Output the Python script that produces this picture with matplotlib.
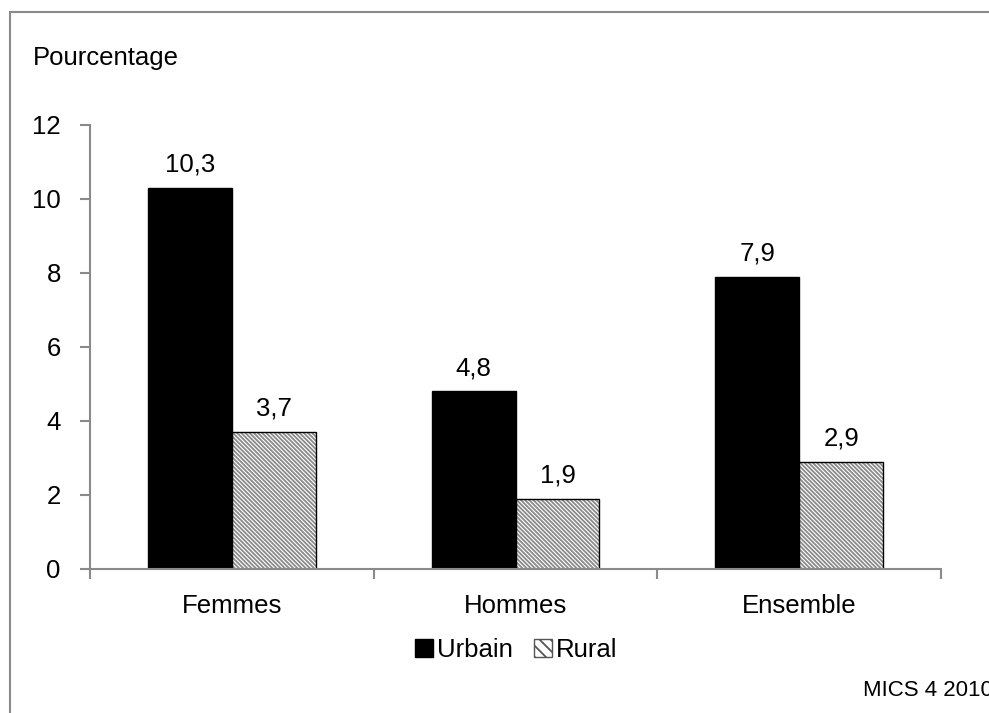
import matplotlib.pyplot as plt
from matplotlib.patches import Rectangle, Patch
import numpy as np

plt.rcParams['font.family'] = ['Liberation Sans', 'DejaVu Sans']
plt.rcParams['hatch.linewidth'] = 1.3

categories = ["Femmes", "Hommes", "Ensemble"]
urbain = [10.3, 4.8, 7.9]
rural = [3.7, 1.9, 2.9]
yticks = [0, 2, 4, 6, 8, 10, 12]


def fmt(v):
    return f"{v:.1f}".replace(".", ",")


fig = plt.figure(figsize=(9.89, 7.13), dpi=100)
ax = fig.add_axes([0.091, 0.202, 0.8605, 0.6227])

x = np.arange(len(categories))
w = 0.296
ax.bar(x - w / 2, urbain, w, color="black", edgecolor="black", linewidth=1)
ax.bar(x + w / 2, rural, w, color="white", edgecolor="#8a8a8a",
       hatch="\\" * 8, linewidth=0)
ax.bar(x + w / 2, rural, w, fill=False, edgecolor="black", linewidth=1)

for xi, v in zip(x - w / 2, urbain):
    ax.text(xi, v + 0.3, fmt(v), ha="center", va="bottom", fontsize=18.5)
for xi, v in zip(x + w / 2, rural):
    ax.text(xi, v + 0.3, fmt(v), ha="center", va="bottom", fontsize=18.5)

ax.set_xlim(-0.5, 2.5)
ax.set_ylim(0, 12)
ax.set_yticks(yticks)
ax.set_yticklabels([str(t) for t in yticks], fontsize=18.5)
ax.set_xticks([-0.5, 0.5, 1.5, 2.5], minor=False)
ax.set_xticklabels([])
ax.set_xticks(x, minor=True)
ax.set_xticklabels(categories, minor=True, fontsize=18.5)
ax.tick_params(axis="x", which="minor", length=0, pad=18)
ax.tick_params(axis="x", which="major", length=7, width=1.5,
               color="#8a8a8a", direction="out")
ax.tick_params(axis="y", length=7, width=1.5, color="#8a8a8a",
               direction="out", pad=14)
for s in ["top", "right"]:
    ax.spines[s].set_visible(False)
for s in ["left", "bottom"]:
    ax.spines[s].set_color("#8a8a8a")
    ax.spines[s].set_linewidth(1.5)

handles = [Patch(facecolor="black", edgecolor="black"),
           Patch(facecolor="white", edgecolor="#555555", hatch="\\\\\\")]
fig.legend(handles, ["Urbain", "Rural"], loc="center",
           bbox_to_anchor=(0.522, 0.088), ncol=2, frameon=False,
           fontsize=18.5, handlelength=0.7, handleheight=0.7,
           handletextpad=0.15, columnspacing=0.8)

fig.text(0.033, 0.919, "Pourcentage", fontsize=18.5, va="center")
fig.text(0.873, 0.032, "MICS 4 2010", fontsize=16, va="center")

fig.add_artist(Rectangle((0.0101, -0.1), 1.2, 1.083,
                         transform=fig.transFigure, fill=False,
                         edgecolor="#8a8a8a", linewidth=1.5))

fig.savefig("out.png", dpi=100)
